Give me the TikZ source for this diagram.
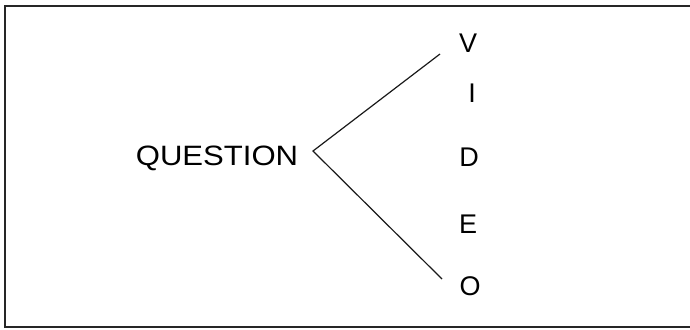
\documentclass[tikz,border=0pt]{standalone}
\usepackage{fontspec}
\setmainfont{Liberation Sans}
\usepackage{graphicx}
\begin{document}
\begin{tikzpicture}[x=1pt,y=-1pt,
  frame/.style={draw=black!85,line width=2pt},
  branch/.style={draw=black!90,line width=1.2pt},
  word/.style={inner sep=0pt,anchor=center,font=\fontsize{28}{28}\selectfont},
  letter/.style={inner sep=0pt,anchor=center,font=\fontsize{27}{27}\selectfont}]
  \useasboundingbox (0,0) rectangle (690,329);
  \begin{scope}
    \clip (0,0) rectangle (690,329);
    \draw[frame] (5,6.5) rectangle (700,327);
  \end{scope}
  % the question on the left
  \node[word] (q) at (217,158) {\scalebox{1.11}[1]{QUESTION}};
  % the answer spelled downwards
  \node[letter] (v) at (468,43) {V};
  \node[letter] (i) at (472,93.5) {I};
  \node[letter] (d) at (469,157.5) {D};
  \node[letter] (e) at (468,224) {E};
  \node[letter] (o) at (470,286) {O};
  % the fork joining them
  \coordinate (apex) at (313,151);
  \coordinate (top) at (440,54);
  \coordinate (bot) at (442,279);
  \draw[branch,line join=miter] (top) -- (apex) -- (bot);
\end{tikzpicture}
\end{document}
